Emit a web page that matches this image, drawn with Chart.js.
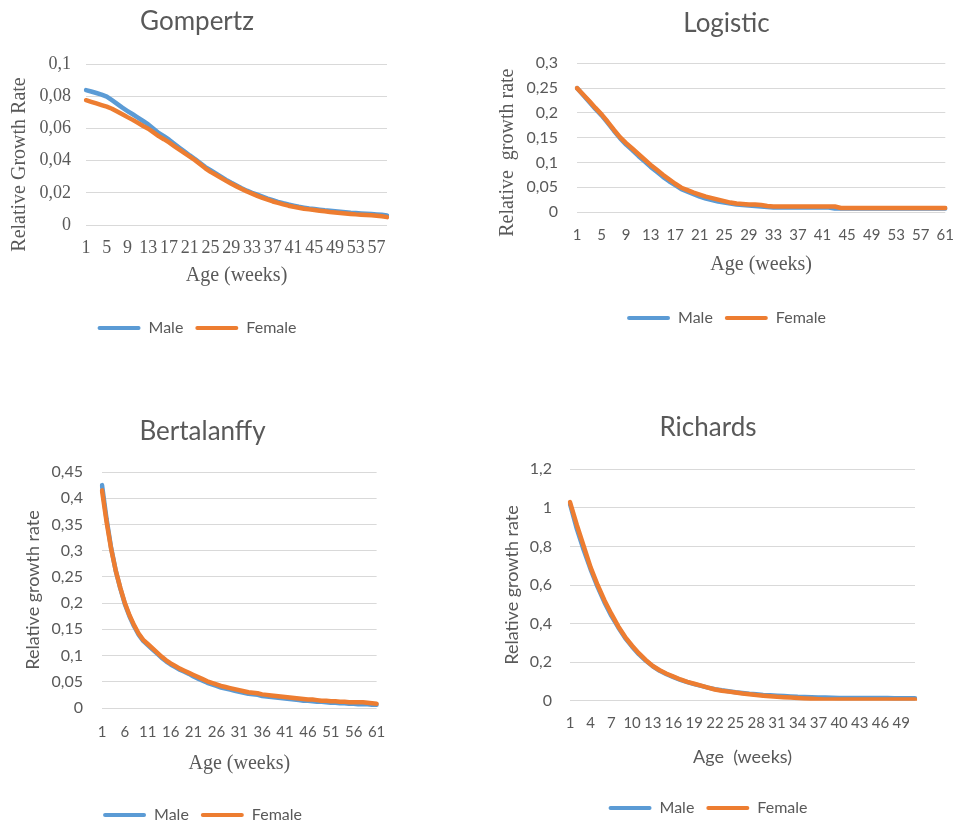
<!DOCTYPE html>
<html>
<head>
<meta charset="utf-8">
<title>Relative growth rate by model</title>
<script src="https://cdn.jsdelivr.net/npm/chart.js@4.4.1/dist/chart.umd.min.js"></script>
<style>
  html, body { margin: 0; padding: 0; background: #fff; overflow: hidden; }
  body { width: 968px; height: 823px; position: relative; }
  canvas { position: absolute; }
</style>
</head>
<body>
<canvas id="gompertz" width="400" height="346" style="left:0;top:0"></canvas>
<canvas id="logistic" width="478" height="336" style="left:490px;top:0"></canvas>
<canvas id="bertalanffy" width="400" height="423" style="left:0;top:410px"></canvas>
<canvas id="richards" width="478" height="416" style="left:490px;top:410px"></canvas>
<script>
// week labels (categories)
function weeks(n) {
  const out = [];
  for (let i = 1; i <= n; i++) out.push(String(i));
  return out;
}
const gompertzWeeks = weeks(59);
const logisticWeeks = weeks(61);
const bertalanffyWeeks = weeks(61);
const richardsWeeks = weeks(51);

// y tick values
const gompertzYTicks = [0, 0.02, 0.04, 0.06, 0.08, 0.1];
const logisticYTicks = [0, 0.05, 0.1, 0.15, 0.2, 0.25, 0.3];
const bertalanffyYTicks = [0, 0.05, 0.1, 0.15, 0.2, 0.25, 0.3, 0.35, 0.4, 0.45];
const richardsYTicks = [0, 0.2, 0.4, 0.6, 0.8, 1, 1.2];

// relative growth rate
const gompertzMale = [
  0.0838, 0.0829, 0.0820, 0.0810, 0.0797, 0.0775, 0.0752, 0.0729, 0.0708, 0.0688,
  0.0667, 0.0646, 0.0625, 0.0598, 0.0572, 0.0552, 0.0530, 0.0505, 0.0480, 0.0456,
  0.0432, 0.0410, 0.0385, 0.0360, 0.0340, 0.0320, 0.0300, 0.0280, 0.0262, 0.0245,
  0.0228, 0.0213, 0.0200, 0.0188, 0.0176, 0.0164, 0.0154, 0.0144, 0.0135, 0.0127,
  0.0120, 0.0113, 0.0108, 0.0103, 0.0099, 0.0095, 0.0091, 0.0088, 0.0085, 0.0082,
  0.0079, 0.0076, 0.0074, 0.0072, 0.0070, 0.0068, 0.0066, 0.0063, 0.0059,
];
const gompertzFemale = [
  0.0775, 0.0765, 0.0755, 0.0745, 0.0735, 0.0722, 0.0705, 0.0688, 0.0670, 0.0653,
  0.0634, 0.0615, 0.0598, 0.0575, 0.0552, 0.0533, 0.0513, 0.0490, 0.0468, 0.0446,
  0.0425, 0.0403, 0.0378, 0.0352, 0.0330, 0.0312, 0.0293, 0.0274, 0.0256, 0.0240,
  0.0224, 0.0208, 0.0195, 0.0181, 0.0168, 0.0157, 0.0146, 0.0137, 0.0128, 0.0120,
  0.0113, 0.0107, 0.0101, 0.0097, 0.0093, 0.0089, 0.0085, 0.0081, 0.0078, 0.0075,
  0.0072, 0.0069, 0.0066, 0.0064, 0.0062, 0.0060, 0.0058, 0.0054, 0.0049,
];

const logisticMale = [
  0.250, 0.236, 0.222, 0.208, 0.195, 0.180, 0.164, 0.149, 0.136, 0.125,
  0.113, 0.102, 0.091, 0.081, 0.071, 0.062, 0.054, 0.046, 0.041, 0.036,
  0.031, 0.027, 0.024, 0.021, 0.019, 0.017, 0.015, 0.014, 0.013, 0.012,
  0.011, 0.010, 0.009, 0.009, 0.009, 0.009, 0.009, 0.009, 0.009, 0.009,
  0.009, 0.009, 0.007, 0.007, 0.007, 0.007, 0.007, 0.007, 0.007, 0.007,
  0.007, 0.007, 0.007, 0.007, 0.007, 0.007, 0.007, 0.007, 0.007, 0.007,
  0.007,
];
const logisticFemale = [
  0.250, 0.237, 0.224, 0.210, 0.197, 0.182, 0.166, 0.151, 0.139, 0.128,
  0.117, 0.106, 0.095, 0.085, 0.075, 0.066, 0.057, 0.049, 0.044, 0.039,
  0.035, 0.031, 0.028, 0.025, 0.022, 0.019, 0.017, 0.016, 0.015, 0.015,
  0.014, 0.012, 0.011, 0.011, 0.011, 0.011, 0.011, 0.011, 0.011, 0.011,
  0.011, 0.011, 0.011, 0.008, 0.008, 0.008, 0.008, 0.008, 0.008, 0.008,
  0.008, 0.008, 0.008, 0.008, 0.008, 0.008, 0.008, 0.008, 0.008, 0.008,
  0.008,
];

const bertalanffyMale = [
  0.425, 0.360, 0.305, 0.262, 0.228, 0.198, 0.175, 0.156, 0.140, 0.128,
  0.120, 0.112, 0.104, 0.096, 0.089, 0.083, 0.078, 0.073, 0.069, 0.065,
  0.060, 0.056, 0.052, 0.048, 0.045, 0.042, 0.039, 0.037, 0.035, 0.033,
  0.031, 0.029, 0.027, 0.026, 0.025, 0.023, 0.022, 0.021, 0.020, 0.019,
  0.018, 0.017, 0.016, 0.015, 0.014, 0.014, 0.013, 0.012, 0.012, 0.011,
  0.010, 0.010, 0.009, 0.009, 0.008, 0.008, 0.007, 0.007, 0.007, 0.006,
  0.006,
];
const bertalanffyFemale = [
  0.415, 0.355, 0.303, 0.262, 0.229, 0.200, 0.177, 0.158, 0.142, 0.130,
  0.122, 0.114, 0.106, 0.098, 0.091, 0.085, 0.080, 0.075, 0.071, 0.067,
  0.063, 0.059, 0.055, 0.051, 0.048, 0.045, 0.042, 0.040, 0.038, 0.036,
  0.034, 0.032, 0.030, 0.029, 0.028, 0.026, 0.025, 0.024, 0.023, 0.022,
  0.021, 0.020, 0.019, 0.018, 0.017, 0.016, 0.016, 0.015, 0.014, 0.014,
  0.013, 0.013, 0.012, 0.012, 0.011, 0.011, 0.011, 0.011, 0.010, 0.009,
  0.008,
];

const richardsMale = [
  1.02, 0.89, 0.78, 0.68, 0.59, 0.51, 0.44, 0.38, 0.325, 0.28,
  0.24, 0.207, 0.178, 0.155, 0.137, 0.122, 0.108, 0.096, 0.086, 0.077,
  0.068, 0.060, 0.054, 0.049, 0.044, 0.040, 0.036, 0.033, 0.030, 0.028,
  0.026, 0.024, 0.022, 0.020, 0.019, 0.018, 0.017, 0.016, 0.015, 0.014,
  0.014, 0.014, 0.014, 0.014, 0.014, 0.014, 0.014, 0.013, 0.013, 0.013,
  0.013,
];
const richardsFemale = [
  1.03, 0.91, 0.80, 0.69, 0.60, 0.52, 0.45, 0.385, 0.33, 0.285,
  0.245, 0.21, 0.18, 0.158, 0.14, 0.125, 0.11, 0.098, 0.088, 0.078,
  0.068, 0.058, 0.052, 0.047, 0.042, 0.037, 0.033, 0.029, 0.026, 0.023,
  0.020, 0.018, 0.016, 0.014, 0.012, 0.010, 0.008, 0.006, 0.006, 0.006,
  0.006, 0.006, 0.006, 0.006, 0.006, 0.006, 0.006, 0.006, 0.006, 0.006,
  0.006,
];

const BLUE = "#5b9bd5";
const ORANGE = "#ed7d31";
const GREY = "#595959";
const GRID = "#d9d9d9";
const SANS = "Lato, 'Open Sans', sans-serif";
const SERIF = "'Liberation Serif', 'DejaVu Serif', serif";

function commaNum(v) {
  return String(+v.toFixed(2)).replace(".", ",");
}

function growthChart(id, o) {
  return new Chart(document.getElementById(id), {
    type: "line",
    data: {
      labels: o.labels,
      datasets: [
        { label: "Male", data: o.male, borderColor: BLUE, backgroundColor: BLUE, order: 1 },
        { label: "Female", data: o.female, borderColor: ORANGE, backgroundColor: ORANGE, order: 0 },
      ],
    },
    options: {
      responsive: false,
      animation: false,
      devicePixelRatio: 1,
      layout: { padding: { left: o.padLeft, right: o.padRight, top: 0, bottom: 0 } },
      elements: {
        line: { borderWidth: 4.5, tension: 0, borderCapStyle: "round", borderJoinStyle: "round" },
        point: { radius: 0 },
      },
      plugins: {
        title: {
          display: true,
          text: o.title,
          color: GREY,
          font: { family: SANS, size: 26, weight: "normal" },
          padding: { top: o.titleTop, bottom: o.titleBottom },
        },
        legend: {
          position: "bottom",
          labels: {
            color: GREY,
            font: { family: SANS, size: 16 },
            boxWidth: 43,
            boxHeight: 4,
            padding: 12,
            generateLabels(chart) {
              return Chart.defaults.plugins.legend.labels.generateLabels(chart)
                .sort((a, b) => a.datasetIndex - b.datasetIndex)
                .map((item) => Object.assign(item, { lineWidth: 0, borderRadius: 2 }));
            },
          },
        },
        tooltip: { enabled: false },
      },
      scales: {
        x: {
          grid: { display: false, drawTicks: false },
          border: { display: false },
          ticks: {
            autoSkip: false,
            maxRotation: 0,
            minRotation: 0,
            color: GREY,
            font: o.xTickFont,
            padding: o.xTickPad,
            callback(value, index) {
              return index % o.every === 0 ? this.getLabelForValue(value) : "";
            },
          },
          title: {
            display: true,
            text: o.xTitle,
            color: GREY,
            font: o.xTitleFont,
            padding: { top: 0, bottom: o.xTitlePad },
          },
          afterFit(scale) {
            scale.height = o.xHeight;
          },
        },
        y: {
          min: 0,
          max: o.yTicks[o.yTicks.length - 1],
          grid: { color: GRID, drawTicks: false },
          border: { display: false },
          afterBuildTicks(scale) {
            scale.ticks = o.yTicks.map((v) => ({ value: v }));
          },
          ticks: {
            color: GREY,
            font: o.yTickFont,
            padding: o.yTickPad,
            callback: (v) => commaNum(v),
          },
          title: {
            display: true,
            text: o.yTitle,
            color: GREY,
            font: o.yTitleFont,
            padding: { top: o.yTitlePad, bottom: 0 },
          },
          afterFit(scale) {
            scale.width = o.yWidth;
          },
        },
      },
    },
  });
}

growthChart("gompertz", {
  title: "Gompertz",
  labels: gompertzWeeks,
  male: gompertzMale,
  female: gompertzFemale,
  yTicks: gompertzYTicks,
  every: 4,
  padLeft: 7, padRight: 13,
  titleTop: 6, titleBottom: 26.8,
  yWidth: 79, yTickPad: 15, yTitlePad: 1,
  yTickFont: { family: SERIF, size: 18 },
  yTitle: "Relative Growth Rate        ",
  yTitleFont: { family: SERIF, size: 20 },
  xHeight: 83, xTickPad: 12, xTitlePad: 20,
  xTickFont: { family: SERIF, size: 18 },
  xTitle: "Age (weeks)",
  xTitleFont: { family: SERIF, size: 20 },
});

growthChart("logistic", {
  title: "Logistic",
  labels: logisticWeeks,
  male: logisticMale,
  female: logisticFemale,
  yTicks: logisticYTicks,
  every: 4,
  padLeft: 6, padRight: 11,
  titleTop: 8, titleBottom: 24.1,
  yWidth: 81, yTickPad: 19, yTitlePad: 0,
  yTickFont: { family: SANS, size: 16 },
  yTitle: "Relative  growth rate      ",
  yTitleFont: { family: SERIF, size: 20 },
  xHeight: 86, xTickPad: 14, xTitlePad: 21,
  xTickFont: { family: SANS, size: 15 },
  xTitle: "Age (weeks)",
  xTitleFont: { family: SERIF, size: 20 },
});

growthChart("bertalanffy", {
  title: "Bertalanffy",
  labels: bertalanffyWeeks,
  male: bertalanffyMale,
  female: bertalanffyFemale,
  yTicks: bertalanffyYTicks,
  every: 5,
  padLeft: 22, padRight: 17,
  titleTop: 6.4, titleBottom: 24.4,
  yWidth: 80, yTickPad: 19, yTitlePad: 0,
  yTickFont: { family: SANS, size: 16 },
  yTitle: "Relative growth rate",
  yTitleFont: { family: SANS, size: 18 },
  xHeight: 87, xTickPad: 14.7, xTitlePad: 19.7,
  xTickFont: { family: SANS, size: 15 },
  xTitle: "Age (weeks)",
  xTitleFont: { family: SERIF, size: 20 },
});

growthChart("richards", {
  title: "Richards",
  labels: richardsWeeks,
  male: richardsMale,
  female: richardsFemale,
  yTicks: richardsYTicks,
  every: 3,
  padLeft: 11, padRight: 53,
  titleTop: 2.4, titleBottom: 25.7,
  yWidth: 69, yTickPad: 18, yTitlePad: 0,
  yTickFont: { family: SANS, size: 16 },
  yTitle: "Relative growth rate",
  yTitleFont: { family: SANS, size: 18 },
  xHeight: 87.3, xTickPad: 13.6, xTitlePad: 20.5,
  xTickFont: { family: SANS, size: 15 },
  xTitle: "Age  (weeks)",
  xTitleFont: { family: SANS, size: 18 },
});
</script>
</body>
</html>
